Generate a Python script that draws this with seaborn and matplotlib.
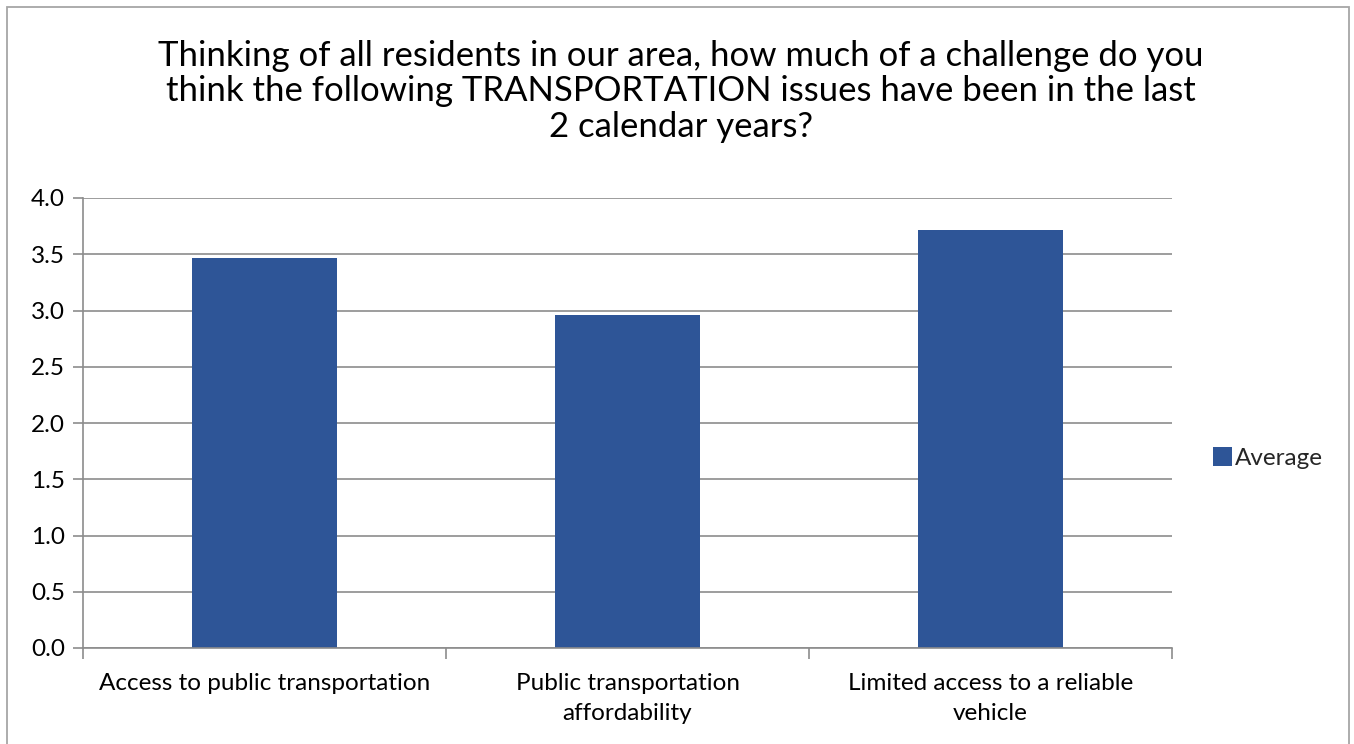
import matplotlib
matplotlib.use("Agg")
import matplotlib.pyplot as plt
import seaborn as sns
import pandas as pd
from matplotlib.patches import Rectangle, Patch
from matplotlib.ticker import FixedLocator, MultipleLocator, FormatStrFormatter

categories = ["Access to public transportation",
              "Public transportation\naffordability",
              "Limited access to a reliable\nvehicle"]
values = [3.47, 2.96, 3.72]
series_name = "Average"
title = ("Thinking of all residents in our area, how much of a challenge do you\n"
         "think the following TRANSPORTATION issues have been in the last\n"
         "2 calendar years?")

sns.set_theme(style="white")
plt.rcParams['font.family'] = ['Lato', 'DejaVu Sans']

W, H = 1354, 744
fig = plt.figure(figsize=(W / 100, H / 100), dpi=100)
ax = fig.add_axes([83 / W, 1 - 648 / H, (1172 - 83) / W, (648 - 198) / H])

df = pd.DataFrame({"cat": categories, "val": values})
bar_color = "#2E5597"
sns.barplot(data=df, x="cat", y="val", color=bar_color, width=0.4, ax=ax,
            saturation=1, edgecolor="none")

ax.set_xlim(-0.5, 2.5)
ax.set_ylim(0, 4.0)
ax.yaxis.set_major_locator(MultipleLocator(0.5))
ax.yaxis.set_major_formatter(FormatStrFormatter("%.1f"))
ax.grid(axis="y", color="#8C8C8C", linewidth=1.2)
ax.set_axisbelow(True)
ax.set_xlabel("")
ax.set_ylabel("")

for s in ["top", "right"]:
    ax.spines[s].set_visible(False)
for s in ["left", "bottom"]:
    ax.spines[s].set_color("#8C8C8C")
    ax.spines[s].set_linewidth(1.2)

ax.tick_params(axis="y", which="major", left=True, length=7, width=1.2,
               color="#8C8C8C", labelsize=17.5, pad=6, labelcolor="black")
ax.set_xticks(range(len(categories)))
ax.set_xticklabels(categories, fontsize=17.5, color="black", linespacing=1.55)
ax.tick_params(axis="x", which="major", bottom=False, pad=12)
ax.xaxis.set_minor_locator(FixedLocator([-0.5, 0.5, 1.5, 2.5]))
ax.tick_params(axis="x", which="minor", bottom=True, length=8, width=1.2,
               color="#8C8C8C")

fig.text(0.503, 1 - 40 / H, title, ha="center", va="top", fontsize=25,
         color="black", linespacing=1.13)

handle = Patch(facecolor=bar_color, edgecolor="none")
fig.legend([handle], [series_name], loc="center left",
           bbox_to_anchor=(1191 / W, 1 - 458 / H), frameon=False,
           fontsize=17.5, handlelength=0.8, handleheight=0.8, handletextpad=0.1)

fig.patches.append(Rectangle((7 / W, -0.01), (1349 - 7) / W, 1.0, transform=fig.transFigure,
                             fill=False, edgecolor="#A6A6A6", linewidth=1.3))

fig.savefig("out.png", dpi=100)
